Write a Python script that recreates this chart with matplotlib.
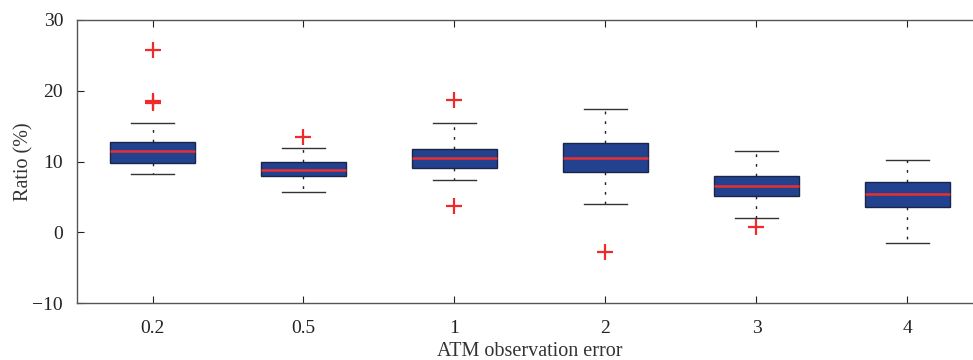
import matplotlib
matplotlib.use("Agg")
import matplotlib.pyplot as plt

plt.rcParams['font.family'] = ['Liberation Serif', 'DejaVu Serif']

categories = ["0.2", "0.5", "1", "2", "3", "4"]
q1 = [9.8, 8.0, 9.05, 8.45, 5.15, 3.5]
med = [11.55, 8.8, 10.45, 10.55, 6.55, 5.4]
q3 = [12.7, 9.9, 11.8, 12.6, 7.9, 7.15]
whislo = [8.3, 5.65, 7.35, 4.0, 2.0, -1.55]
whishi = [15.5, 11.9, 15.4, 17.4, 11.5, 10.15]
fliers = [[25.8, 18.2, 18.5], [13.5], [18.7, 3.7], [-2.75], [0.7], []]

stats = []
for i, c in enumerate(categories):
    stats.append(dict(label=c, q1=q1[i], med=med[i], q3=q3[i],
                      whislo=whislo[i], whishi=whishi[i], fliers=fliers[i]))

fig = plt.figure(figsize=(9.73, 3.6), dpi=100)
ax = fig.add_axes([77/973, 57/360, 906/973, 283/360])

ax.bxp(stats, positions=range(1, 7), widths=0.56, patch_artist=True,
       boxprops=dict(facecolor='#22418f', edgecolor='#1b2548', linewidth=1.0),
       medianprops=dict(color='#e8302e', linewidth=1.8),
       whiskerprops=dict(color='#222222', linestyle=(0, (2, 5)), linewidth=1.0),
       capprops=dict(color='#333333', linewidth=1.0),
       capwidths=0.28,
       flierprops=dict(marker='+', markeredgecolor='#ee2a2a', markersize=12,
                       markeredgewidth=1.6, linestyle='none'))

ax.set_xlim(0.5, 6.5)
ax.set_ylim(-10, 30)
ax.set_yticks([-10, 0, 10, 20, 30])
ax.set_xticks(range(1, 7))
ax.set_xticklabels(categories)
ax.tick_params(direction='in', length=5, width=0.8, top=True, right=True,
               labelsize=14, colors='#222222')
ax.tick_params(axis='x', pad=12)
ax.tick_params(axis='y', pad=10)
for s in ax.spines.values():
    s.set_color('#555555')
    s.set_linewidth(1.0)

ax.set_ylabel("Ratio (%)", fontsize=14.5, color='#333333', labelpad=-1)
ax.set_xlabel("ATM observation error", fontsize=14.5, color='#333333', labelpad=3.5)

fig.savefig("out.png", dpi=100)
